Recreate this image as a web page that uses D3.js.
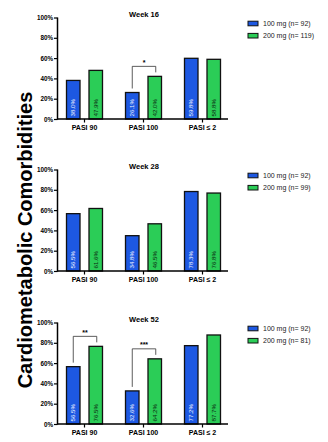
<!DOCTYPE html>
<html>
<head>
<meta charset="utf-8">
<script src="https://cdn.jsdelivr.net/npm/d3@7"></script>
<style>
  body { margin: 0; background: #fff; }
  svg { display: block; font-family: "Liberation Sans", Arial, sans-serif; }
</style>
</head>
<body>
<svg id="chart" width="328" height="442"></svg>
<script>
const weeks = ["Week 16", "Week 28", "Week 52"];
const categories = ["PASI 90", "PASI 100", "PASI \u2264 2"];
const doses = ["100 mg", "200 mg"];
const n100 = [92, 92, 92];
const n200 = [119, 99, 81];
const dose100 = [
  [38.0, 26.1, 59.8],
  [56.5, 34.8, 78.3],
  [56.5, 32.6, 77.2]
];
const dose200 = [
  [47.9, 42.0, 58.8],
  [61.6, 46.5, 76.8],
  [76.5, 64.2, 87.7]
];
// significance marks per week / category
const stars = [
  ["", "*", ""],
  ["", "", ""],
  ["**", "***", ""]
];
const yTicks = [0, 20, 40, 60, 80, 100];

const colors = { "100 mg": "#1d58e2", "200 mg": "#2bcd57" };
const labelColors = { "100 mg": "#eef2ff", "200 mg": "#0b2a12" };

const svg = d3.select("#chart");
const panelTops = [17.5, 169.5, 322.5],
  panelH = 101.5,
  axisLeft = 57.5,
  axisRight = 228;

const x = d3.scaleBand().domain(categories).range([55, 232]).padding(0);
const xInner = d3.scaleBand().domain(doses).range([-18, 18]).paddingInner(0.4);

weeks.forEach((week, wi) => {
  const top = panelTops[wi];
  const y = d3.scaleLinear().domain([0, 100]).range([top + panelH, top]);
  const g = svg.append("g");

  // title
  g.append("text")
    .attr("x", 144)
    .attr("y", top - 1)
    .attr("text-anchor", "middle")
    .attr("font-weight", "bold")
    .attr("font-size", 7.5)
    .text(week);

  const rows = categories.map((c, i) => ({
    cat: c,
    vals: [
      { dose: "100 mg", v: dose100[wi][i] },
      { dose: "200 mg", v: dose200[wi][i] }
    ]
  }));

  const cg = g.selectAll("g.cat")
    .data(rows)
    .enter()
    .append("g")
    .attr("class", "cat")
    .attr("transform", (d) => "translate(" + (x(d.cat) + x.bandwidth() / 2) + ",0)");

  cg.selectAll("rect")
    .data((d) => d.vals)
    .enter()
    .append("rect")
    .attr("x", (d) => xInner(d.dose))
    .attr("y", (d) => y(d.v))
    .attr("width", xInner.bandwidth())
    .attr("height", (d) => y(0) - y(d.v))
    .attr("fill", (d) => colors[d.dose])
    .attr("stroke", "#111")
    .attr("stroke-width", 1.3);

  cg.selectAll("text.val")
    .data((d) => d.vals)
    .enter()
    .append("text")
    .attr("class", "val")
    .attr("transform", (d) =>
      "translate(" + (xInner(d.dose) + xInner.bandwidth() / 2 + 2.2) + "," + (y(0) - 2.5) + ") rotate(-90)")
    .attr("font-size", 6.2)
    .attr("fill", (d) => labelColors[d.dose])
    .text((d) => d.v.toFixed(1) + "%");

  // significance brackets
  rows.forEach((r, ci) => {
    const s = stars[wi][ci];
    if (!s) return;
    const cx = x(r.cat) + x.bandwidth() / 2;
    const x1 = cx + xInner("100 mg") + xInner.bandwidth() / 2;
    const x2 = cx + xInner("200 mg") + xInner.bandwidth() / 2 + 1;
    const by = y(Math.max(r.vals[0].v, r.vals[1].v)) - 10;
    const path = d3.path();
    path.moveTo(x1, y(r.vals[0].v) - 4);
    path.lineTo(x1, by);
    path.lineTo(x2, by);
    path.lineTo(x2, by + 6);
    g.append("path")
      .attr("d", path.toString())
      .attr("fill", "none")
      .attr("stroke", "#333")
      .attr("stroke-width", 0.8);
    g.append("text")
      .attr("x", (x1 + x2) / 2)
      .attr("y", by - 1.5)
      .attr("text-anchor", "middle")
      .attr("font-size", 7)
      .attr("font-weight", "bold")
      .text(s);
  });

  // y axis
  const ya = g.append("g")
    .attr("transform", "translate(" + axisLeft + ",0)")
    .call(d3.axisLeft(y).tickValues(yTicks).tickSize(3.5).tickFormat((d) => d + "%"));
  ya.select(".domain").attr("stroke-width", 1.5).attr("d", "M0," + (y(0) + 0.75) + "V" + y(100));
  ya.selectAll(".tick line").attr("stroke-width", 1.2);
  ya.selectAll(".tick text")
    .attr("font-size", 6.3)
    .attr("font-weight", "bold")
    .attr("x", -4.5)
    .attr("font-family", "Liberation Sans, Arial, sans-serif");

  // x axis
  const xa = g.append("g")
    .attr("transform", "translate(0," + y(0) + ")")
    .call(d3.axisBottom(x).tickSize(3.5).tickSizeOuter(0));
  xa.select(".domain").attr("stroke-width", 1.5).attr("d", "M" + axisLeft + ",0H" + axisRight);
  xa.selectAll(".tick line").attr("stroke-width", 1.2);
  xa.selectAll(".tick text")
    .attr("font-size", 7)
    .attr("font-weight", "bold")
    .attr("y", 6)
    .attr("font-family", "Liberation Sans, Arial, sans-serif");

  // legend
  const legendLabels = [
    "100 mg (n= " + n100[wi] + ")",
    "200 mg (n= " + n200[wi] + ")"
  ];
  const lg = g.append("g").attr("transform", "translate(248," + (top + 6) + ")");
  doses.forEach((d, i) => {
    lg.append("rect")
      .attr("x", 0)
      .attr("y", i * 12.2 - 2.3)
      .attr("width", 10)
      .attr("height", 4.6)
      .attr("fill", colors[d])
      .attr("stroke", "#111")
      .attr("stroke-width", 1);
    lg.append("text")
      .attr("x", 15)
      .attr("y", i * 12.2 + 2.5)
      .attr("font-size", 7)
      .attr("fill", "#222")
      .text(legendLabels[i]);
  });
});

// shared y-axis title
svg.append("text")
  .attr("transform", "translate(32,240) rotate(-90)")
  .attr("text-anchor", "middle")
  .attr("font-size", 20)
  .attr("font-weight", "bold")
  .text("Cardiometabolic Comorbidities");
</script>
</body>
</html>
